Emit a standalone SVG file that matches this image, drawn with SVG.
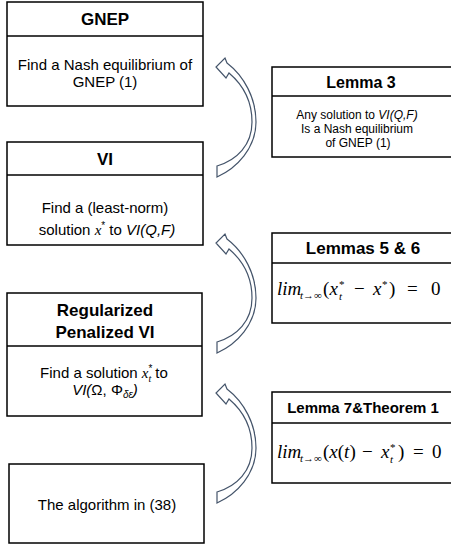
<svg xmlns="http://www.w3.org/2000/svg" width="451" height="548" viewBox="0 0 451 548">
<style>
.box{fill:#fff;stroke:#000;stroke-width:1.5}
.div{stroke:#000;stroke-width:1.5}
.t{font-family:"Liberation Sans",Arial,sans-serif;fill:#000;text-anchor:middle}
.title{font-weight:bold;font-size:17px}
.body{font-size:15px}
.small{font-size:12px}
.m{font-family:"Liberation Serif","Times New Roman",serif;font-size:19px;fill:#000}
.s{font-size:11px}
.mi{font-family:"Liberation Serif","Times New Roman",serif;font-style:italic}
.it{font-style:italic}
.arrow{fill:#fff;stroke:#44546A;stroke-width:1.2;stroke-linejoin:miter}
</style>
<defs>
<path id="curvedArrow" class="arrow" d="M217,177 C237,168 256,148 256,122 C256,98 244,76 227,63 L225,58 L216,67 L226,78 L229,73 C242,84 252,100 252,122 C252,145 237,160 217,166 Z"/>
</defs>
<rect width="451" height="548" fill="#fff"/>
<g id="connectors">
<use href="#curvedArrow"/>
<use href="#curvedArrow" transform="translate(0,176)"/>
<use href="#curvedArrow" transform="translate(0,326)"/>
</g>
<g id="gnep">
<rect class="box" x="7" y="2" width="196" height="104"/>
<line class="div" x1="7" y1="36" x2="203" y2="36"/>
<text class="t title" x="105" y="25">GNEP</text>
<text class="t body" x="105" y="70">Find a Nash equilibrium of</text>
<text class="t body" x="105" y="87">GNEP (1)</text>
</g>
<g id="vi">
<rect class="box" x="7" y="142" width="196" height="103"/>
<line class="div" x1="7" y1="175" x2="203" y2="175"/>
<text class="t title" x="105" y="165">VI</text>
<text class="t body" x="105" y="213">Find a (least-norm)</text>
<text class="t body" x="107" y="235">solution <tspan class="mi">x</tspan><tspan font-size="10" dy="-6">*</tspan><tspan dy="6"> to </tspan><tspan class="it">VI(Q,F)</tspan></text>
</g>
<g id="regularized">
<rect class="box" x="7" y="293" width="195" height="123"/>
<line class="div" x1="7" y1="346" x2="202" y2="346"/>
<text class="t title" x="105" y="316">Regularized</text>
<text class="t title" x="105" y="338">Penalized VI</text>
<text class="t body" x="104" y="378">Find a solution <tspan class="mi">x</tspan><tspan font-size="10" dy="-6">*</tspan><tspan class="mi" font-size="10" dx="-4" dy="10">t</tspan><tspan dy="-4"> to</tspan></text>
<text class="t body" x="105" y="395"><tspan class="it">VI(</tspan>Ω, Φ<tspan class="it" font-size="10" dy="3">δε</tspan><tspan class="it" dy="-3">)</tspan></text>
</g>
<g id="algorithm">
<rect class="box" x="9" y="464" width="195" height="79"/>
<text class="t body" x="107" y="510">The algorithm in (38)</text>
</g>
<g id="lemma3">
<rect class="box" x="272" y="67" width="181" height="90"/>
<line class="div" x1="272" y1="96" x2="453" y2="96"/>
<text class="t" x="361" y="88" font-weight="bold" font-size="16">Lemma 3</text>
<text class="t small" x="357" y="119">Any solution to <tspan class="it">VI(Q,F)</tspan></text>
<text class="t small" x="357" y="133">Is a Nash equilibrium</text>
<text class="t small" x="358" y="147">of GNEP (1)</text>
</g>
<g id="lemmas56">
<rect class="box" x="272" y="233" width="181" height="90"/>
<line class="div" x1="272" y1="263" x2="453" y2="263"/>
<text class="t title" x="363" y="254">Lemmas 5 &amp; 6</text>
<text class="m" y="295"><tspan x="277" class="it">lim</tspan><tspan x="300" y="299" class="s"><tspan class="it">t</tspan>→∞</tspan><tspan x="323" y="295">(</tspan><tspan x="329.5" class="it">x</tspan><tspan x="339" y="288" class="s">*</tspan><tspan x="339" y="300" class="s it">t</tspan><tspan x="354" y="295">−</tspan><tspan x="373" class="it">x</tspan><tspan x="382" y="288" class="s">*</tspan><tspan x="389" y="295">)</tspan><tspan x="407">=</tspan><tspan x="431">0</tspan></text>
</g>
<g id="lemma7">
<rect class="box" x="272" y="392" width="181" height="91"/>
<line class="div" x1="272" y1="423" x2="453" y2="423"/>
<text class="t" x="363" y="412.5" font-weight="bold" font-size="15">Lemma 7&amp;Theorem 1</text>
<text class="m" y="458"><tspan x="277" class="it">lim</tspan><tspan x="300" y="462" class="s"><tspan class="it">t</tspan>→∞</tspan><tspan x="323" y="458">(</tspan><tspan class="it">x</tspan>(<tspan class="it">t</tspan>)<tspan x="362">−</tspan><tspan x="381" class="it">x</tspan><tspan x="390" y="451" class="s">*</tspan><tspan x="390" y="463" class="s it">t</tspan><tspan x="398" y="458">)</tspan><tspan x="413">=</tspan><tspan x="432">0</tspan></text>
</g>
</svg>
